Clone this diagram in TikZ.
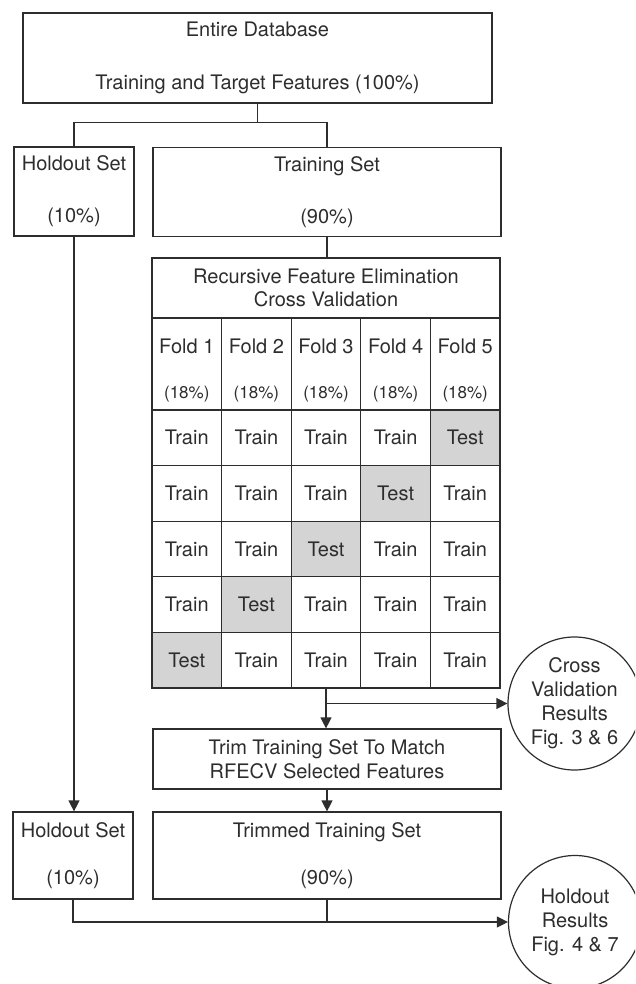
\documentclass[tikz,border=0pt]{standalone}
\usepackage{fontspec}
\setmainfont{TeX Gyre Heros}
\usetikzlibrary{arrows.meta,positioning}
\definecolor{testgray}{RGB}{212,212,212}
\definecolor{ink}{RGB}{45,45,45}
\begin{document}
\begin{tikzpicture}[x=1pt,y=1pt,
    every node/.style={font=\fontsize{20}{24}\selectfont,text=ink,align=center,inner sep=0pt},
    box/.style={draw=ink,line width=1.2pt,minimum width=348pt},
    setbox/.style={box,minimum width=120pt},
    cell/.style={draw=ink,line width=1.2pt,minimum width=69.6pt,minimum height=55.6pt},
    testcell/.style={cell,fill=testgray},
    result/.style={circle,draw=ink,line width=1.2pt,minimum size=133pt},
    link/.style={draw=ink,line width=1.2pt},
    flow/.style={link,-{Triangle[length=11pt,width=11pt]}}]
  \useasboundingbox (0,0) rectangle (635,-984);
  \clip (0,0) rectangle (635,-984);

  % data split
  \node[box,minimum width=469pt,minimum height=90pt] (db) at (257.5,-58)
    {Entire Database\\[29pt]Training and Target Features (100\%)};
  \node[setbox,minimum height=89pt] (hold) at (74,-191.5) {Holdout Set\\[28pt](10\%)};
  \node[box,minimum height=89pt] (train) at (327,-192) {Training Set\\[28pt](90\%)};

  % rfecv grid
  \node[box,minimum height=60pt,font=\fontsize{20}{23}\selectfont] (rfe) at (326,-288)
    {Recursive Feature Elimination\\Cross Validation};
  \foreach \c in {1,...,5}{
    \node[cell,minimum height=92pt] (f-\c) at ({152+69.6*(\c-0.5)},-364)
      {\rule{0pt}{27pt}Fold \c\\[21pt]{\fontsize{17}{20}\selectfont(18\%)}};
    \foreach \r in {1,...,5}{
      \ifnum\numexpr\c+\r\relax=6 \def\kind{testcell}\def\lab{Test}%
      \else \def\kind{cell}\def\lab{Train}\fi
      \node[\kind] (c-\r-\c) at ({152+69.6*(\c-0.5)},{-(410+55.6*(\r-0.5))}) {\lab};
    }
  }

  % after selection
  \node[box,minimum height=60pt] (trim) at (327,-759)
    {Trim Training Set To Match\\RFECV Selected Features};
  \node[box,minimum height=87pt] (trimmed) at (327,-855.5) {Trimmed Training Set\\[23pt](90\%)};
  \node[setbox,minimum height=87pt] (hold2) at (73,-855.5) {Holdout Set\\[23pt](10\%)};
  \node[result] (cvres) at (574.5,-703.5) {Cross\\Validation\\Results\\Fig. 3 \& 6};
  \node[result] (hres) at (575,-922) {Holdout\\Results\\Fig. 4 \& 7};

  % connectors
  \draw[link] (db.south) -- ++(0,-19) coordinate (split);
  \draw[link] (hold.north) |- (split) -| (train.north);
  \draw[link] (train.south) -- (train.south |- rfe.north);
  \draw[flow] (hold.south) -- (hold.south |- hold2.north);
  \draw[flow] (c-5-3.south) -- (c-5-3.south |- trim.north);
  \draw[flow] (c-5-3.south |- cvres.west) -- (cvres.west);
  \draw[flow] (trim.south) -- (trimmed.north);
  \draw[flow] (hold2.south) |- (hres.west);
  \draw[link] (trimmed.south) -- (trimmed.south |- hres.west);
\end{tikzpicture}
\end{document}
